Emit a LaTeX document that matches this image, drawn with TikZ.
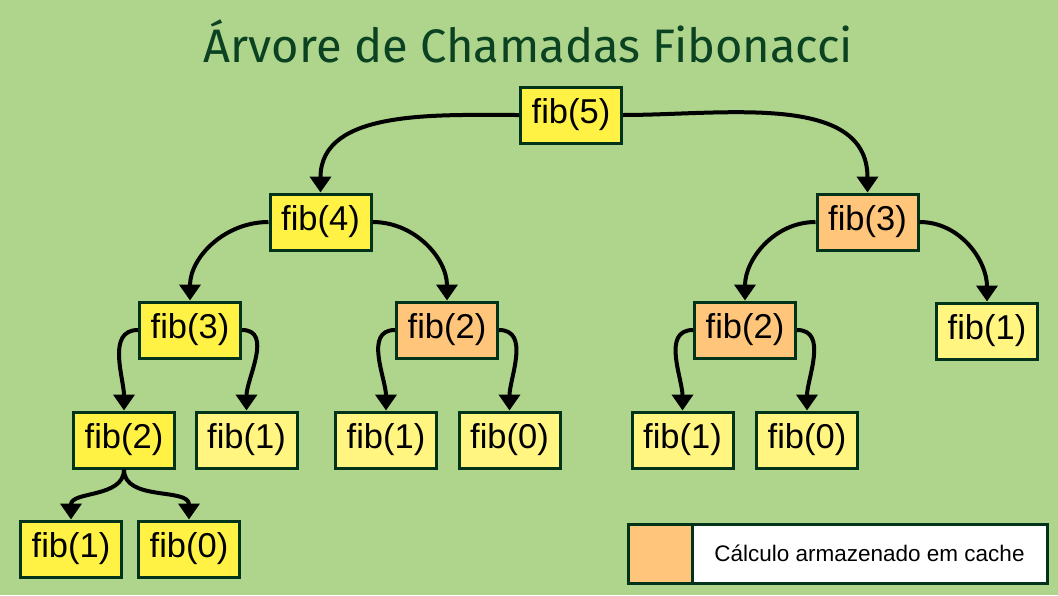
\documentclass[tikz,border=0pt]{standalone}
\usepackage{fontspec}
\setmainfont{Liberation Sans}
\newfontfamily\titlefont{Fira Sans}
\usetikzlibrary{arrows.meta}
\definecolor{bg}{RGB}{174,213,139}
\definecolor{yelA}{RGB}{255,242,68}
\definecolor{yelB}{RGB}{255,245,128}
\definecolor{orA}{RGB}{255,197,122}
\definecolor{bord}{RGB}{0,51,25}
\definecolor{ttl}{RGB}{10,66,34}
\tikzset{
  fibbox/.style={draw=bord, line width=3pt, minimum width=101pt, minimum height=56pt,
    inner sep=0pt, font=\fontsize{34.5}{40}\selectfont},
  hot/.style={fibbox, fill=yelA},
  leaf/.style={fibbox, fill=yelB},
  cached/.style={fibbox, fill=orA},
  edge/.style={line width=4pt, draw=black, -{Triangle[width=21pt,length=16pt]}},
}
\begin{document}
\begin{tikzpicture}[x=1pt,y=1pt]
\fill[bg] (0,0) rectangle (1058,-595);
\useasboundingbox (0,0) rectangle (1058,-595);
\node[anchor=base, text=ttl, font=\titlefont\fontsize{47}{54}\selectfont] (title) at (528.5,-62) {Árvore de Chamadas Fibonacci};
% level 0
\node[hot] (f5) at (571,-115) {fib(5)};
% level 1
\node[hot] (f4) at (320.5,-222) {fib(4)};
\node[cached] (f3r) at (867.5,-222) {fib(3)};
% level 2
\node[hot] (f3l) at (190,-330) {fib(3)};
\node[cached] (f2m) at (447,-330) {fib(2)};
\node[cached] (f2r) at (745,-330) {fib(2)};
\node[leaf] (f1r) at (987,-331) {fib(1)};
% level 3
\node[hot] (f2l) at (124,-440) {fib(2)};
\node[leaf] (f1a) at (246.5,-440) {fib(1)};
\node[leaf] (f1b) at (386,-440) {fib(1)};
\node[leaf] (f0b) at (509.5,-440) {fib(0)};
\node[leaf] (f1c) at (682.5,-440) {fib(1)};
\node[leaf] (f0c) at (807,-440) {fib(0)};
% level 4
\node[hot] (f1d) at (71,-549) {fib(1)};
\node[hot] (f0d) at (189,-549) {fib(0)};
% edges
\draw[edge] (f5.west) to[out=180,in=90] (f4.north);
\draw[edge] (f5.east) to[out=0,in=90] (f3r.north);
\draw[edge] (f4.west) to[out=180,in=90] (f3l.north);
\draw[edge] (f4.east) to[out=0,in=90] (f2m.north);
\draw[edge] (f3r.west) to[out=180,in=90] (f2r.north);
\draw[edge] (f3r.east) to[out=0,in=90] (f1r.north);
\draw[edge] (f3l.west) to[out=180,in=90] (f2l.north);
\draw[edge] (f3l.east) to[out=0,in=90] (f1a.north);
\draw[edge] (f2m.west) to[out=180,in=90] (f1b.north);
\draw[edge] (f2m.east) to[out=0,in=90] (f0b.north);
\draw[edge] (f2r.west) to[out=180,in=90] (f1c.north);
\draw[edge] (f2r.east) to[out=0,in=90] (f0c.north);
\draw[edge] (f2l.south) to[out=-90,in=90] (f1d.north);
\draw[edge] (f2l.south) to[out=-90,in=90] (f0d.north);
% legend
\node[draw=bord, line width=3pt, fill=white, minimum width=355pt, minimum height=59pt, inner sep=0pt,
  font=\fontsize{22.5}{27}\selectfont] (legtext) at (869.5,-553.5) {Cálculo armazenado em cache};
\node[draw=bord, line width=3pt, fill=orA, minimum width=64pt, minimum height=59pt, inner sep=0pt] (legsw) at (660,-553.5) {};
\end{tikzpicture}
\end{document}
